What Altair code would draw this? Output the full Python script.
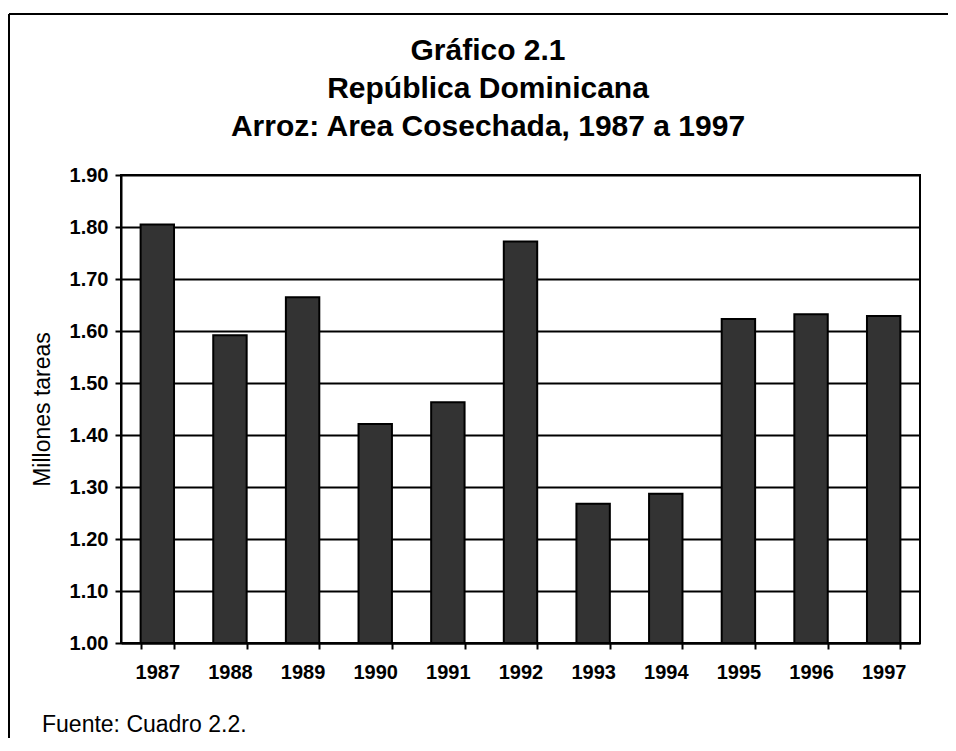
import altair as alt
import pandas as pd

years = ["1987", "1988", "1989", "1990", "1991", "1992", "1993", "1994", "1995", "1996", "1997"]
area = [1.805, 1.592, 1.665, 1.421, 1.463, 1.772, 1.268, 1.287, 1.623, 1.632, 1.629]
y_ticks = [1.0, 1.1, 1.2, 1.3, 1.4, 1.5, 1.6, 1.7, 1.8, 1.9]
title_lines = ["Gráfico 2.1", "República Dominicana", "Arroz: Area Cosechada, 1987 a 1997"]
y_title = "Millones tareas"
source_note = "Fuente: Cuadro 2.2."

FONT = "Liberation Sans"
W, H = 799, 468
PAD_L, PAD_T = 113, 167
SVG_W, SVG_H = 940, 730

df = pd.DataFrame({"year": years, "area": area})

bars = alt.Chart(df).mark_bar(
    fill="#333333", stroke="black", strokeWidth=2
).encode(
    x=alt.X("year:N", sort=years,
            scale=alt.Scale(paddingInner=0.54, paddingOuter=0.27),
            axis=alt.Axis(title=None, labelAngle=0, labelFontSize=20, labelFontWeight="bold",
                          labelFont=FONT, labelColor="black", labelPadding=13,
                          tickBand="extent", tickSize=6, tickWidth=2, tickColor="black",
                          domainColor="black", domainWidth=2, grid=False)),
    y=alt.Y("area:Q",
            scale=alt.Scale(domain=[1.0, 1.9], nice=False, zero=False),
            axis=alt.Axis(values=y_ticks, format=".2f", title=y_title,
                          titleFont=FONT, titleFontSize=23, titleFontWeight="normal",
                          titleColor="black", titleAngle=270, titleAlign="center",
                          titleBaseline="middle", titleX=-79, titleY=H / 2,
                          labelFontSize=20, labelFontWeight="bold", labelFont=FONT,
                          labelColor="black", labelPadding=7,
                          tickSize=6, tickWidth=2, tickColor="black",
                          domainColor="black", domainWidth=2,
                          grid=True, gridColor="black", gridWidth=2, gridOpacity=1)),
    y2=alt.datum(1.0),
)

one = pd.DataFrame({"k": [0]})

title_layers = []
for i, line in enumerate(title_lines):
    title_layers.append(
        alt.Chart(pd.DataFrame({"t": [line]})).mark_text(
            font=FONT, fontSize=30, fontWeight="bold", color="black",
            align="center", baseline="alphabetic"
        ).encode(text="t:N", x=alt.value(367), y=alt.value(-115 + 38 * i))
    )

note = alt.Chart(pd.DataFrame({"t": [source_note]})).mark_text(
    font=FONT, fontSize=23, color="black", align="left", baseline="alphabetic"
).encode(text="t:N", x=alt.value(-79), y=alt.value(557))

frame_left = alt.Chart(one).mark_rule(color="black", strokeWidth=2).encode(
    x=alt.value(-112), y=alt.value(-161), y2=alt.value(SVG_H - PAD_T)
)
frame_top = alt.Chart(one).mark_rule(color="black", strokeWidth=2).encode(
    x=alt.value(-112), x2=alt.value(SVG_W - PAD_L), y=alt.value(-161)
)

chart = alt.layer(bars, *title_layers, note, frame_left, frame_top).properties(
    width=W, height=H,
    autosize=alt.AutoSizeParams(type="none"),
    padding={"left": PAD_L, "top": PAD_T, "right": SVG_W - PAD_L - W, "bottom": SVG_H - PAD_T - H},
    background="white",
).configure_view(stroke="black", strokeWidth=2)

chart.save("out.html", embed_options={"renderer": "svg", "actions": False})
